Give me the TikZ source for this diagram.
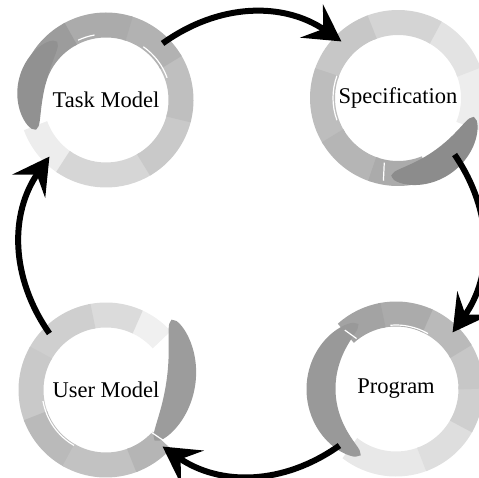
\documentclass[tikz,border=0pt]{standalone}
\usepackage{fontspec}
\setmainfont{Liberation Serif}
\usetikzlibrary{arrows.meta,positioning}

% tapered paint stroke round a point: centre, from, to, radius, width, colour
\newcommand{\brushstroke}[6]{%
  \fill[#6, shift={#1}]
    plot[domain=#2:#3, samples=40, smooth] (\x:{#4+#5/2*sqrt(abs(sin(180/((#3)-(#2))*(\x-(#2)))))})
    -- plot[domain=#3:#2, samples=40, smooth] (\x:{#4-#5/2*sqrt(abs(sin(180/((#3)-(#2))*(\x-(#2)))))})
    -- cycle;}

\begin{document}
\begin{tikzpicture}[
    x=1pt, y=1pt,
    stage/.style={circle, minimum size=160, inner sep=0, outer sep=0,
        font=\fontsize{22.5}{26}\selectfont},
    paint/.style={line width=25},
    scratch/.style={white, line width=1.2},
    flow/.style={line width=6, -{Stealth[length=36pt, width=40pt, inset=14pt]}}]
\useasboundingbox (0,0) rectangle (479,477);

\node[stage] (task) at (106,377) {Task Model};
\node[stage] (spec) at (398,379) {Specification};
\node[stage] (prog) at (396,88)  {Program};
\node[stage] (user) at (106,87)  {User Model};

% task model ring, dark at the left
\foreach \a/\b/\g in {200/237/7, -125/-58/16, -60/-13/21, -15/32/25, 30/74/30, 72/120/33, 118/165/39}
  \draw[paint, black!\g] ([shift={(\a:75)}]task.center) arc[start angle=\a, end angle=\b, radius=75];
\brushstroke{(task.center)}{130}{203}{76}{27}{black!43}
\draw[scratch] ([shift={(100:66)}]task.center) arc[start angle=100, end angle=115, radius=66];
\draw[scratch] ([shift={(20:65)}]task.center) arc[start angle=20, end angle=55, radius=65];

% specification ring, dark tail at the lower right
\foreach \a/\b/\g in {-22/22/7, 20/62/11, 60/112/17, 110/162/22, 160/212/26, 210/252/29, 250/292/33}
  \draw[paint, black!\g] ([shift={(\a:75.5)}]spec.center) arc[start angle=\a, end angle=\b, radius=75.5];
\brushstroke{(spec.center)}{-95}{-14}{78}{28}{black!45}
\draw[scratch] ([shift={(-102:66)}]spec.center) -- ([shift={(-100:84)}]spec.center);
\draw[scratch] ([shift={(160:65)}]spec.center) arc[start angle=160, end angle=200, radius=65];

% program ring, dark crescent at the left
\foreach \a/\b/\g in {232/292/9, 290/332/13, 330/362/19, 0/32/22, 30/67/27, 65/102/33, 100/132/36}
  \draw[paint, black!\g] ([shift={(\a:75)}]prog.center) arc[start angle=\a, end angle=\b, radius=75];
\brushstroke{(prog.center)}{120}{242}{75}{29}{black!40}
\draw[scratch] ([shift={(128:64)}]prog.center) -- ([shift={(131:78)}]prog.center);
\draw[scratch] ([shift={(60:64)}]prog.center) arc[start angle=60, end angle=95, radius=64];

% user model ring, dark crescent at the right
\foreach \a/\b/\g in {42/67/6, 65/102/14, 100/152/19, 150/202/21, 200/242/27, 240/292/24, 290/318/29}
  \draw[paint, black!\g] ([shift={(\a:75)}]user.center) arc[start angle=\a, end angle=\b, radius=75];
\brushstroke{([shift={(-36,23)}]user.center)}{-41}{25}{112}{29}{black!39}
\draw[scratch] ([shift={(-43:62)}]user.center) -- ([shift={(-41:80)}]user.center);
\draw[scratch] ([shift={(190:64)}]user.center) arc[start angle=190, end angle=240, radius=64];

% the loop
\path[draw, flow] (task.45) to[bend left=35] (spec.135);
\path[draw, flow] (spec.-45) to[bend left=35] (prog.45);
\path[draw, flow] (prog.-135) to[bend left=35] (user.-45);
\path[draw, flow] (user.135) to[bend left=35] (task.-135);

\end{tikzpicture}
\end{document}
